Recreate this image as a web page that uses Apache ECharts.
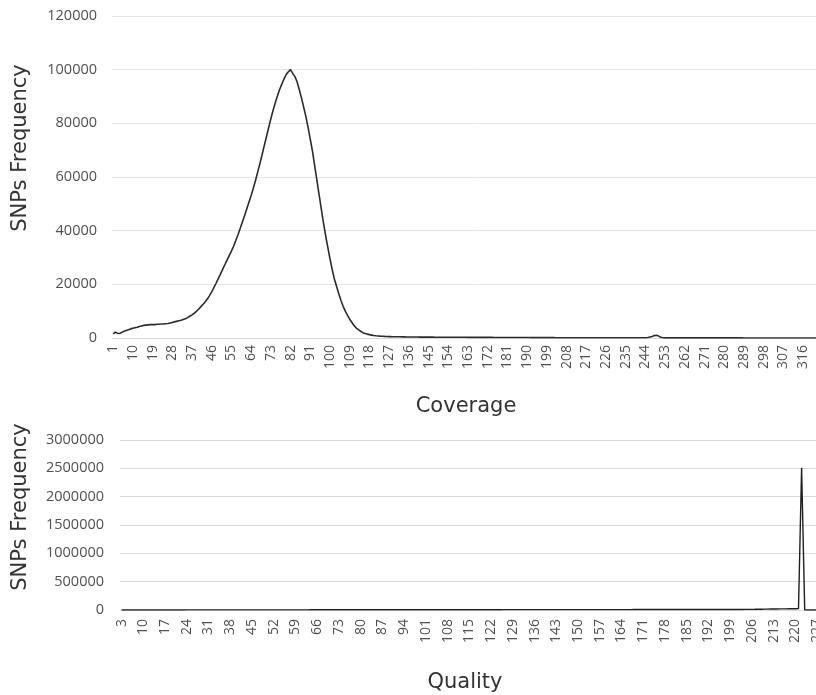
<!DOCTYPE html>
<html>
<head>
<meta charset="utf-8">
<script src="https://cdn.jsdelivr.net/npm/echarts@6/dist/echarts.min.js"></script>
<style>html,body{margin:0;padding:0;background:#fff;overflow:hidden;width:816px;height:695px;}#c{width:860px;height:695px;}</style>
</head>
<body>
<div id="c"></div>
<script>
// ---- Coverage chart data (categories start at 1) ----
const coverageStart = 1;
const coverageFreq = [
1500,2200,1800,1700,2100,2500,2800,3100,3400,3600,
3800,4000,4300,4500,4700,4800,4900,5000,5000,5000,
5100,5100,5200,5200,5300,5400,5600,5800,6000,6200,
6400,6600,6900,7200,7600,8100,8600,9200,9900,10700,
11600,12500,13400,14500,15800,17200,18800,20400,22100,23800,
25600,27300,29000,30700,32400,34200,36300,38500,40800,43200,
45600,48100,50600,53100,55800,58700,61800,65000,68300,71700,
75000,78400,81700,84800,87600,90200,92600,94600,96500,98200,
99200,100000,98600,97400,95400,92500,89400,86000,82500,78500,
74100,69600,64200,58900,53500,48200,43000,38200,33800,29500,
25500,22000,19300,16500,14000,11800,10000,8400,7000,5800,
4600,3700,3100,2500,2000,1700,1450,1250,1080,950,
850,760,700,650,600,560,530,500,480,460,
450,440,420,410,400,390,380,370,360,350,
340,335,330,325,320,315,310,305,300,300,295,290,285,280,280,275,270,270,265,260,
260,255,250,250,245,240,240,235,230,230,225,220,220,215,210,210,205,200,200,195,
190,190,185,180,180,175,170,170,165,160,160,155,150,150,145,140,140,135,130,130,
125,125,120,120,120,115,115,110,110,110,105,105,100,100,100,100,95,95,95,90,
90,90,90,85,85,85,85,80,80,80,80,80,75,75,75,75,75,70,70,70,
70,70,70,120,200,350,
600,900,1000,700,300,120,
60,60,60,55,55,55,55,50,50,50,
50,50,45,45,45,45,45,40,40,40,
40,40,40,35,35,35,35,35,35,30,
30,30,30,30,30,30,25,25,25,25,
25,25,25,25,20,20,20,20,20,20,
20,20,20,20,15,15,15,15,15,15,
15,15,15,15,15,10,10,10,10,10,
10,10,10,10,10,10,10,10
];
const coverageYTicks = {min: 0, max: 120000, interval: 20000};

// ---- Quality chart data (categories start at 3) ----
const qualityStart = 3;
const qualityFreq = [
210,340,280,450,390,520,610,480,700,650,820,760,900,870,1050,980,1120,1200,1090,1310,
1250,1400,1380,1520,1470,1600,1580,1710,1650,1800,1760,1890,1850,1980,1920,2050,2010,2150,2100,2230,
2190,2310,2280,2400,2350,2480,2440,2560,2520,2650,2600,2730,2690,2810,2770,2900,2860,2980,2950,3070,
3030,3150,3110,3240,3190,3320,3280,3400,3360,3490,3450,3570,3530,3660,3620,3740,3700,3830,3790,3910,
3870,4000,3960,4080,4040,4170,4130,4250,4210,4340,4300,4420,4380,4510,4470,4590,4550,4680,4640,4760,
4720,4850,4810,4930,4890,5020,4980,5100,5060,5190,5150,5270,5230,5360,5320,5440,5400,5530,5490,5610,
5570,5700,5660,5780,5740,5870,5830,5950,5910,6040,6000,6120,6080,6210,6170,6290,6250,6380,6340,6460,
6420,6550,6510,6630,6590,6720,6680,6800,6760,6890,6850,6970,6930,7060,7020,7140,7100,7230,7190,7310,
7270,7400,7360,7480,7440,7570,7530,7650,7610,7740,7700,7820,7780,7910,7870,7990,7950,8080,8040,8160,
8120,8250,8210,8330,8290,8420,8380,8500,8460,8590,8550,8670,8630,8760,8720,8840,8800,8930,8890,9010,
9500,10200,11000,11800,12600,13500,14200,15100,15800,16700,17500,18200,19000,19800,20500,21300,22000,22800,23500,2510000,
1800,900,600,400,300,200,150,120
];
const qualityYTicks = {min: 0, max: 3000000, interval: 500000};

const coverageCats = coverageFreq.map((_, i) => String(coverageStart + i));
const qualityCats = qualityFreq.map((_, i) => String(qualityStart + i));

const labelColor = '#505050';
const tickFont = 'Open Sans';

const chart = echarts.init(document.getElementById('c'), null, {renderer: 'canvas'});
chart.setOption({
  animation: false,
  backgroundColor: '#ffffff',
  grid: [
    {left: 112, width: 723, top: 16, height: 322, outerBoundsMode: 'none', containLabel: false},
    {left: 120, width: 708, top: 440, height: 170, outerBoundsMode: 'none', containLabel: false}
  ],
  xAxis: [
    {
      gridIndex: 0, type: 'category', data: coverageCats, boundaryGap: true,
      axisLine: {lineStyle: {color: '#d9d9d9', width: 1}},
      axisTick: {show: false},
      axisLabel: {interval: 8, rotate: 90, color: labelColor, fontFamily: tickFont, fontSize: 14, margin: 7}
    },
    {
      gridIndex: 1, type: 'category', data: qualityCats, boundaryGap: true,
      axisLine: {lineStyle: {color: '#d9d9d9', width: 1}},
      axisTick: {show: false},
      axisLabel: {interval: 6, rotate: 90, color: labelColor, fontFamily: tickFont, fontSize: 14, margin: 9}
    }
  ],
  yAxis: [
    {
      gridIndex: 0, type: 'value', min: coverageYTicks.min, max: coverageYTicks.max, interval: coverageYTicks.interval,
      axisLine: {show: false}, axisTick: {show: false},
      splitLine: {lineStyle: {color: '#e3e7ec', width: 1}},
      axisLabel: {color: labelColor, fontFamily: tickFont, fontSize: 14.5, margin: 15, formatter: v => String(v)}
    },
    {
      gridIndex: 1, type: 'value', min: qualityYTicks.min, max: qualityYTicks.max, interval: qualityYTicks.interval,
      axisLine: {show: false}, axisTick: {show: false},
      splitLine: {lineStyle: {color: '#d9d9d9', width: 1}},
      axisLabel: {color: labelColor, fontFamily: tickFont, fontSize: 14.5, margin: 16, formatter: v => String(v)}
    }
  ],
  series: [
    {
      type: 'line', xAxisIndex: 0, yAxisIndex: 0, data: coverageFreq,
      symbol: 'none', smooth: false,
      lineStyle: {color: '#2b2b2b', width: 1.6}
    },
    {
      type: 'line', xAxisIndex: 1, yAxisIndex: 1, data: qualityFreq,
      symbol: 'none', smooth: false,
      lineStyle: {color: '#1f1f1f', width: 1.4}
    }
  ],
  graphic: [
    {type: 'text', x: 21, y: 148, rotation: Math.PI / 2,
     style: {text: 'SNPs Frequency', x: 0, y: 0, align: 'center', verticalAlign: 'middle', font: '21px "DejaVu Sans"', fill: '#333333'}},
    {type: 'text', x: 21, y: 507, rotation: Math.PI / 2,
     style: {text: 'SNPs Frequency', x: 0, y: 0, align: 'center', verticalAlign: 'middle', font: '21px "DejaVu Sans"', fill: '#333333'}},
    {type: 'text', x: 466, y: 407,
     style: {text: 'Coverage', x: 0, y: 0, align: 'center', verticalAlign: 'middle', font: '21px "DejaVu Sans"', fill: '#333333'}},
    {type: 'text', x: 465, y: 683,
     style: {text: 'Quality', x: 0, y: 0, align: 'center', verticalAlign: 'middle', font: '21px "DejaVu Sans"', fill: '#333333'}}
  ]
});
</script>
</body>
</html>
